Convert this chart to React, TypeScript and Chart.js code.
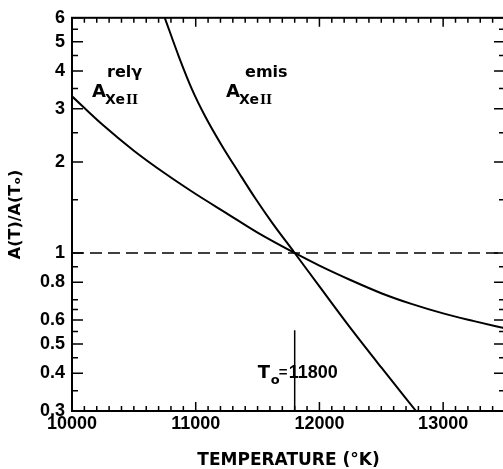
import React, { useEffect, useRef } from "react";
import { Chart, registerables } from "chart.js";

Chart.register(...registerables);

// ---- data ----
const relTemps = [10000, 10250, 10500, 10750, 11000, 11250, 11500, 11800, 12000, 12250, 12500, 12750, 13000, 13250, 13500];
const relValues = [3.3, 2.65, 2.18, 1.835, 1.567, 1.353, 1.168, 1.0, 0.908, 0.814, 0.736, 0.677, 0.631, 0.595, 0.563];

const emisTemps = [10750, 10865, 10970, 11075, 11213, 11350, 11480, 11617, 11800, 12000, 12250, 12500, 12781];
const emisValues = [6.0, 4.45, 3.48, 2.84, 2.26, 1.84, 1.52, 1.26, 1.0, 0.775, 0.565, 0.418, 0.3];

const xMin = 10000;
const xMax = 13500;
const xTickValues = [10000, 11000, 12000, 13000];
const xMinorStep = 100;

const yMin = 0.3;
const yMax = 6;
const yTickValues = [0.3, 0.4, 0.5, 0.6, 0.8, 1, 2, 3, 4, 5, 6];
const yMinorValues = [0.35, 0.45, 0.55, 0.65, 0.7, 0.9, 1.5, 2.5, 3.5, 4.5, 5.5];

const refLevel = 1;
const T0 = 11800;
const t0LineTop = 0.555;
const t0LabelY = 0.385;

const xTitle = "TEMPERATURE (°K)";
const yTitle = "A(T)/A(Tₒ)";

const curveLabels = [
  { sup: "relγ", x: 10162, y: 3.28, supDx: 15 },
  { sup: "emis", x: 11245, y: 3.28, supDx: 19 },
];

const DJ = '"DejaVu Sans", sans-serif';
const DJS = '"DejaVu Serif", serif';
const LIB = '"Liberation Sans", Arial, sans-serif';

const framePlugin = {
  id: "frame",
  beforeDatasetsDraw(chart: any) {
    const { ctx, chartArea: a, scales } = chart;
    const x = scales.x;
    const y = scales.y;
    ctx.save();
    ctx.strokeStyle = "#000";
    ctx.lineWidth = 1.5;
    ctx.setLineDash([12, 6]);
    const py = y.getPixelForValue(refLevel);
    ctx.beginPath();
    ctx.moveTo(a.left, py);
    ctx.lineTo(a.right, py);
    ctx.stroke();
    ctx.setLineDash([]);
    const px = x.getPixelForValue(T0);
    ctx.beginPath();
    ctx.moveTo(px, y.getPixelForValue(t0LineTop));
    ctx.lineTo(px, a.bottom);
    ctx.stroke();
    ctx.restore();
  },
  afterDatasetsDraw(chart: any) {
    const { ctx, chartArea: a, scales } = chart;
    const x = scales.x;
    const y = scales.y;
    ctx.save();
    ctx.strokeStyle = "#000";
    ctx.lineWidth = 2;
    ctx.strokeRect(a.left, a.top, a.right - a.left, a.bottom - a.top);

    ctx.lineWidth = 1.5;
    ctx.beginPath();
    for (let v = xMin; v <= xMax; v += xMinorStep) {
      const px = x.getPixelForValue(v);
      const len = xTickValues.includes(v) ? 9 : 5;
      ctx.moveTo(px, a.bottom);
      ctx.lineTo(px, a.bottom - len);
      ctx.moveTo(px, a.top);
      ctx.lineTo(px, a.top + len);
    }
    const yTick = (v: number, len: number) => {
      const py = y.getPixelForValue(v);
      ctx.moveTo(a.left, py);
      ctx.lineTo(a.left + len, py);
      ctx.moveTo(a.right, py);
      ctx.lineTo(a.right - len, py);
    };
    yTickValues.forEach((v) => yTick(v, 11));
    yMinorValues.forEach((v) => yTick(v, 6));
    ctx.stroke();

    // curve labels
    ctx.fillStyle = "#000";
    ctx.textAlign = "left";
    ctx.textBaseline = "alphabetic";
    curveLabels.forEach((l) => {
      const px = x.getPixelForValue(l.x);
      const py = y.getPixelForValue(l.y);
      ctx.font = `bold 18px ${DJ}`;
      ctx.fillText("A", px, py);
      ctx.font = `bold 16px ${DJ}`;
      ctx.fillText(l.sup, px + l.supDx, py - 20);
      ctx.font = `bold 14px ${DJ}`;
      ctx.fillText("Xe", px + 13, py + 7);
      const w = ctx.measureText("Xe").width;
      ctx.font = `bold 13px ${DJS}`;
      ctx.fillText("II", px + 13 + w + 1, py + 7);
    });

    // T0 label
    const lx = x.getPixelForValue(T0);
    const ly = y.getPixelForValue(t0LabelY);
    ctx.font = `bold 18px ${DJ}`;
    ctx.fillText("T", lx - 37, ly);
    ctx.font = `bold 13px ${DJ}`;
    ctx.fillText("o", lx - 24, ly + 6);
    ctx.font = `bold 15px ${LIB}`;
    ctx.fillText("=", lx - 16, ly - 1);
    ctx.font = `bold 18px ${LIB}`;
    ctx.fillText(String(T0), lx - 6, ly);
    ctx.restore();
  },
};

export default function App() {
  const ref = useRef<HTMLCanvasElement>(null);

  useEffect(() => {
    document.body.style.margin = "0";
    const canvas = ref.current;
    if (!canvas) return;
    const chart = new Chart(canvas, {
      type: "line",
      data: {
        datasets: [
          {
            label: "rel",
            data: relTemps.map((t, i) => ({ x: t, y: relValues[i] })),
            borderColor: "#000",
            borderWidth: 2,
            pointRadius: 0,
            cubicInterpolationMode: "monotone",
            fill: false,
          },
          {
            label: "emis",
            data: emisTemps.map((t, i) => ({ x: t, y: emisValues[i] })),
            borderColor: "#000",
            borderWidth: 2,
            pointRadius: 0,
            cubicInterpolationMode: "monotone",
            fill: false,
          },
        ],
      },
      options: {
        animation: false,
        responsive: false,
        events: [],
        layout: { padding: { top: 15, left: 0, right: 1, bottom: 0 } },
        plugins: { legend: { display: false }, tooltip: { enabled: false } },
        scales: {
          x: {
            type: "linear",
            min: xMin,
            max: xMax,
            grid: { display: false, drawTicks: false },
            border: { display: false },
            afterBuildTicks: (s: any) => {
              s.ticks = xTickValues.map((v) => ({ value: v }));
            },
            afterFit: (s: any) => {
              s.height = 58;
            },
            ticks: {
              autoSkip: false,
              maxRotation: 0,
              padding: 2,
              color: "#000",
              font: { family: LIB, size: 18, weight: "bold" },
              callback: (v: any) => String(v),
            },
            title: {
              display: true,
              text: xTitle,
              color: "#000",
              font: { family: DJ, size: 17, weight: "bold", lineHeight: 1 },
              padding: { top: 0, bottom: 0 },
            },
          },
          y: {
            type: "logarithmic",
            min: yMin,
            max: yMax,
            grid: { display: false, drawTicks: false },
            border: { display: false },
            afterBuildTicks: (s: any) => {
              s.ticks = yTickValues.map((v) => ({ value: v }));
            },
            afterFit: (s: any) => {
              s.width = 72;
            },
            ticks: {
              autoSkip: false,
              padding: 7,
              color: "#000",
              font: { family: LIB, size: 18, weight: "bold" },
              callback: (v: any) => String(v),
            },
            title: {
              display: true,
              text: yTitle,
              color: "#000",
              font: { family: DJ, size: 16, weight: "bold", lineHeight: 1.2 },
              padding: { top: 6, bottom: 0 },
            },
          },
        },
      },
      plugins: [framePlugin],
    } as any);
    return () => chart.destroy();
  }, []);

  return (
    <div style={{ width: 503, height: 469, overflow: "hidden", background: "#fff" }}>
      <canvas ref={ref} width={506} height={469} style={{ display: "block" }} />
    </div>
  );
}
